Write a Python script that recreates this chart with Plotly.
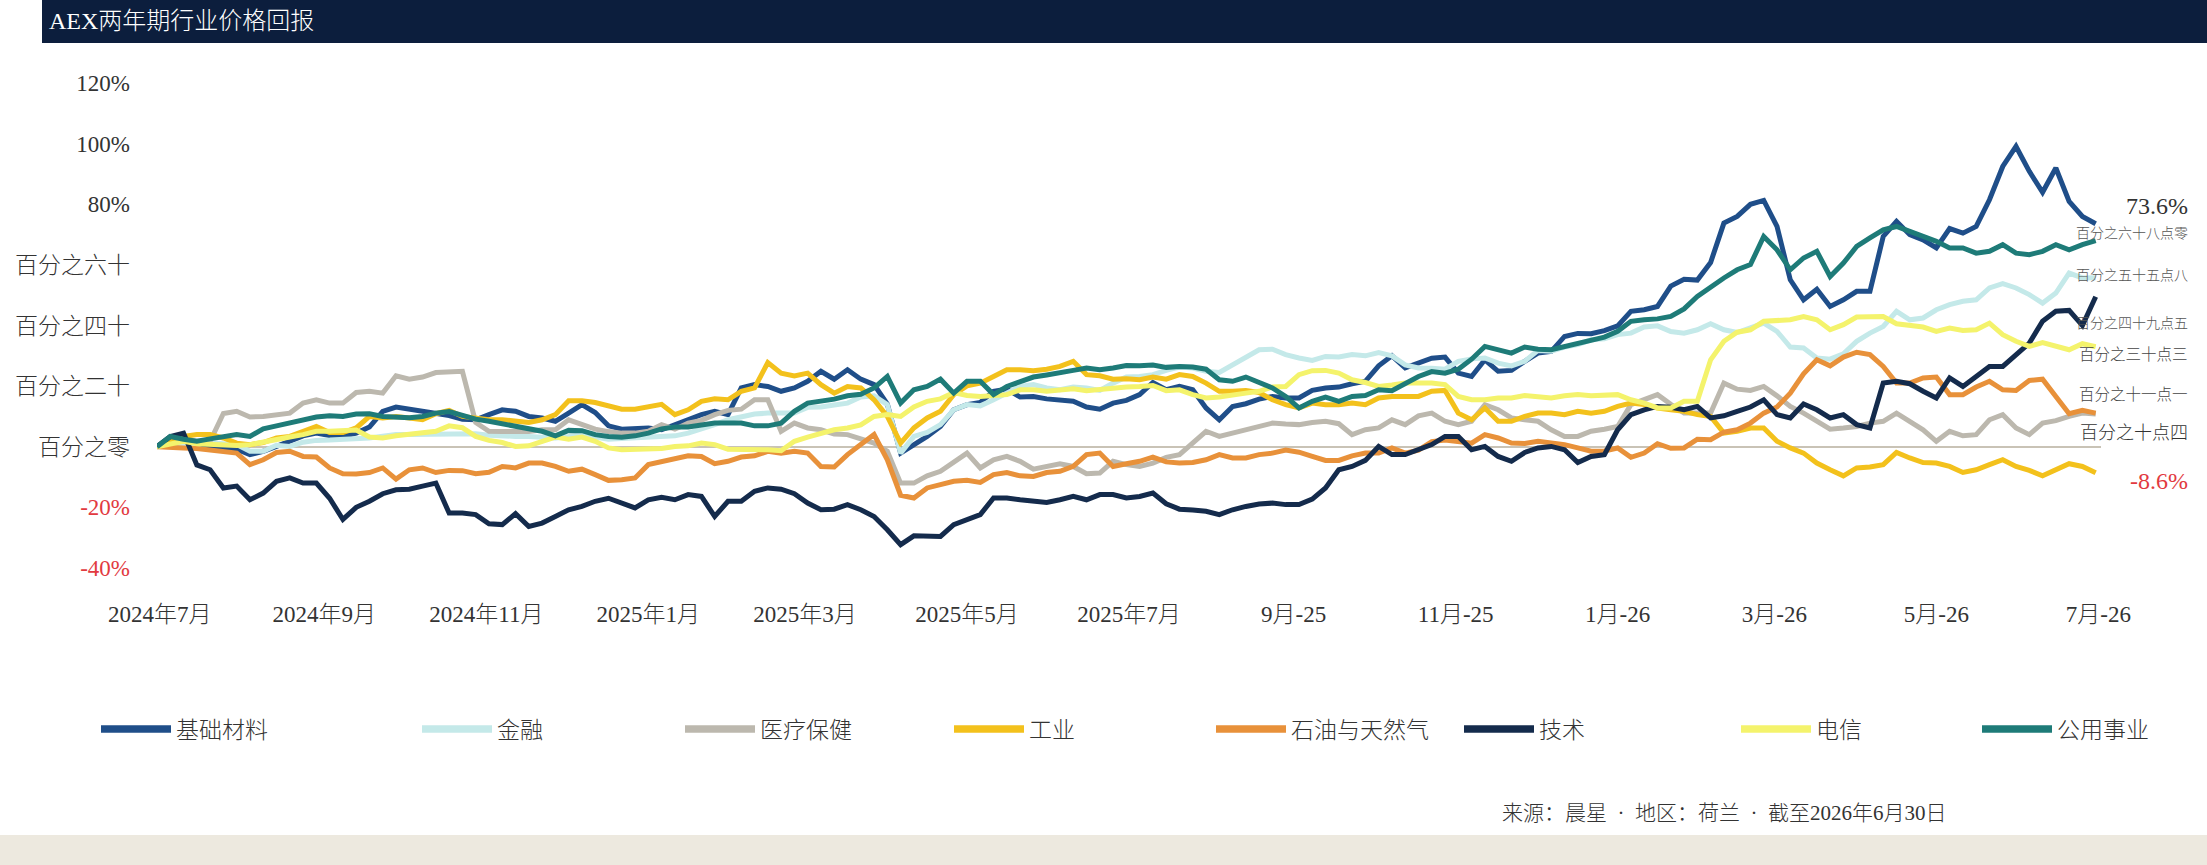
import plotly.graph_objects as go
import pandas as pd

# ---------------- data (cumulative price return, %) ----------------
# readings every 10 days from 2024-06-30 ("_a") and the in-between readings 5 days later ("_b")
dates_a = pd.date_range("2024-06-30", periods=74, freq="10D")
dates_b = pd.date_range("2024-07-05", periods=73, freq="10D")

basic_materials_a = [0, 2.9, -0.2, -0.8, -1.5, 1.8, 4.5, 3.4, 6.5, 13.1, 11.3, 10.3, 8.9, 12.2, 10.0, 8.4, 13.9, 6.9, 6.2, 5.6,
                     9.2, 11.7, 19.4, 19.9, 19.4, 24.9, 25.4, 20.5, -2.1, 3.4, 12.2, 14.6, 19.0, 16.6, 15.5, 13.1, 14.4, 17.2, 18.8,
                     18.8, 8.9, 14.2, 16.6, 16.1, 19.4, 20.8, 26.7, 26.0, 29.2, 24.3, 28.7, 25.2, 30.9, 36.4, 37.3, 39.9, 45.2, 53.0,
                     55.0, 73.8, 80.0, 72.7, 48.5, 46.3, 51.3, 69.4, 70.0, 65.6, 70.5, 81.5, 99.1, 84.0, 81.0, 73.6]
basic_materials_b = [2.3, 1.2, -0.4, -2.6, 0.1, 3.6, 3.7, 4.5, 11.7, 12.4, 11.0, 9.1, 10.6, 11.7, 9.5, 11.1, 11.3, 5.8, 6.2,
                     7.3, 10.6, 10.6, 20.5, 18.3, 21.6, 22.3, 22.3, 14.1, 0.7, 6.7, 13.9, 18.3, 16.4, 15.8, 15.0, 12.4, 15.3, 21.2,
                     19.9, 12.8, 13.3, 15.7, 16.1, 18.6, 19.7, 21.6, 30.0, 27.6, 29.6, 23.2, 24.9, 28.2, 31.5, 37.4, 38.3, 44.7, 46.3,
                     55.3, 60.8, 76.0, 81.3, 55.1, 52.0, 48.5, 51.3, 74.4, 68.3, 72.0, 72.7, 92.5, 90.9, 92.0, 76.0]

financials_a = [0, 1.0, 1.2, 0.7, -1.5, 0.1, 2.1, 2.3, 2.9, 4.0, 4.0, 4.0, 4.3, 3.4, 3.4, 2.9, 4.0, 2.5, 2.9, 3.3,
                4.5, 7.3, 10.0, 11.1, 11.1, 13.1, 14.4, 16.8, -2.1, 4.7, 12.2, 13.5, 17.5, 20.5, 18.8, 19.4, 21.0, 23.2, 25.2,
                26.0, 24.5, 29.8, 32.2, 29.3, 29.8, 30.4, 31.1, 27.0, 25.9, 28.2, 29.3, 26.7, 31.8, 32.9, 35.3, 37.0, 39.5, 38.0,
                38.6, 38.6, 39.2, 38.1, 32.6, 28.9, 34.8, 39.7, 41.9, 45.2, 48.0, 52.4, 52.4, 47.4, 57.3, 55.8]
financials_b = [1.0, 1.2, 1.0, -1.5, 0.5, 1.5, 2.2, 2.5, 3.5, 4.0, 4.0, 4.2, 3.8, 3.4, 3.2, 3.4, 3.2, 2.7, 3.2,
                3.6, 5.8, 8.9, 10.8, 11.1, 13.0, 13.8, 16.4, 13.9, 3.4, 7.3, 13.9, 15.5, 19.9, 19.4, 19.7, 18.6, 23.0, 23.8,
                26.3, 24.9, 27.1, 32.0, 30.4, 28.5, 29.6, 30.0, 30.0, 26.0, 25.6, 29.0, 27.6, 28.2, 31.5, 33.7, 35.6, 37.5, 39.9,
                37.5, 40.6, 37.7, 40.8, 32.9, 29.3, 30.7, 37.5, 44.7, 42.5, 46.9, 48.5, 53.8, 50.2, 50.7, 55.7]

healthcare_a = [0, 3.0, 1.8, 11.7, 10.0, 11.1, 15.5, 14.4, 18.3, 23.4, 23.0, 24.9, 8.0, 5.0, 5.0, 5.6, 7.3, 5.0, 4.5, 7.3,
                7.8, 10.6, 12.4, 15.5, 7.8, 5.6, 4.0, 1.2, -12.0, -9.6, -5.2, -7.0, -3.2, -7.4, -5.6, -8.9, -4.8, -6.5, -3.5,
                1.2, 3.4, 5.6, 7.8, 7.3, 8.4, 4.0, 6.2, 7.3, 11.1, 7.3, 13.9, 9.5, 8.4, 3.4, 5.1, 6.7, 15.7, 14.0,
                11.1, 21.0, 18.6, 16.8, 11.1, 5.8, 6.7, 8.4, 8.4, 1.8, 3.6, 8.9, 6.2, 7.8, 10.0, 10.8]
healthcare_b = [2.9, 1.8, 11.0, 9.8, 10.6, 14.4, 14.4, 17.9, 17.7, 22.3, 24.5, 24.9, 5.1, 5.1, 5.6, 8.9, 5.8, 4.5, 5.1,
                5.8, 8.7, 12.0, 15.5, 5.1, 6.2, 4.2, 2.5, -1.5, -12.0, -8.1, -2.1, -4.3, -4.8, -6.5, -6.5, -8.7, -5.9, -5.4,
                -2.6, 5.1, 4.5, 6.5, 7.5, 8.0, 7.6, 5.6, 8.9, 10.2, 8.4, 8.4, 12.2, 8.9, 5.6, 3.4, 5.8, 13.9, 17.2,
                11.1, 11.1, 19.0, 19.9, 13.3, 8.4, 6.2, 7.8, 11.1, 5.6, 5.1, 4.0, 10.6, 4.0, 8.6, 11.1]

industrials_a = [0, 3.4, 4.0, 1.2, 1.4, 3.4, 6.7, 4.7, 10.0, 10.0, 8.9, 12.0, 9.5, 8.9, 8.0, 10.6, 15.2, 13.5, 12.4, 14.0,
                 12.2, 15.8, 18.3, 27.8, 23.4, 20.5, 19.9, 15.5, 1.2, 9.5, 17.2, 21.0, 25.4, 25.1, 26.5, 23.8, 22.3, 22.1, 22.3,
                 23.2, 18.3, 18.6, 15.5, 12.8, 13.9, 14.4, 16.1, 16.6, 18.3, 11.1, 12.8, 8.4, 11.1, 10.6, 11.1, 13.3, 13.9, 12.2,
                 10.6, 4.5, 6.2, 1.8, -2.1, -7.6, -7.0, -5.9, -3.7, -5.4, -8.5, -5.9, -6.5, -9.6, -5.6, -8.6]
industrials_b = [2.3, 4.0, 2.9, 0.7, 2.9, 5.1, 4.7, 6.2, 9.5, 9.5, 10.9, 10.0, 8.9, 8.4, 8.9, 15.2, 14.6, 12.4, 13.3,
                 10.6, 15.0, 15.5, 19.4, 24.3, 24.3, 17.7, 19.4, 10.0, 6.2, 11.7, 20.1, 23.2, 25.4, 25.6, 28.2, 23.4, 22.4, 23.0,
                 23.8, 21.0, 18.3, 17.9, 13.9, 14.4, 13.9, 13.9, 16.6, 16.6, 18.6, 8.9, 8.4, 10.0, 11.1, 11.7, 11.7, 14.4, 12.8,
                 11.7, 10.0, 5.1, 6.2, -0.4, -5.4, -9.6, -6.7, -1.9, -5.2, -6.5, -7.6, -4.3, -7.8, -7.6, -6.5]

oil_gas_a = [0, -0.4, -1.2, -2.1, -4.3, -1.5, -3.4, -8.9, -8.5, -10.7, -7.0, -7.8, -8.9, -6.5, -5.4, -6.5, -7.4, -11.1, -10.3, -4.8,
             -3.0, -5.6, -3.4, -1.5, -1.5, -6.5, -2.6, 4.0, -16.0, -13.6, -11.4, -11.8, -8.5, -9.8, -8.1, -2.6, -6.5, -4.8, -5.0,
             -5.2, -2.6, -3.7, -2.1, -1.8, -4.5, -3.0, -2.1, -2.1, 1.7, 1.8, 4.0, 1.2, 1.8, 0.7, -1.5, -0.4, -2.1, -0.5,
             2.5, 4.8, 7.8, 13.1, 24.1, 26.7, 31.2, 26.5, 21.0, 23.0, 17.2, 21.6, 18.6, 22.3, 10.9, 11.1]
oil_gas_b = [-0.4, -0.6, -1.9, -5.9, -1.9, -3.2, -7.0, -9.0, -7.0, -7.6, -8.5, -7.9, -8.4, -7.0, -5.4, -8.1, -9.2, -10.9, -5.9,
             -3.7, -3.2, -4.8, -3.0, -2.1, -2.1, -6.7, 0.7, -4.3, -16.9, -12.5, -11.1, -9.2, -9.6, -8.5, -6.5, -2.1, -5.6, -3.4,
             -5.4, -4.3, -3.7, -2.6, -1.1, -3.2, -4.5, -2.1, -0.4, -1.1, 2.2, 1.2, 2.9, 1.1, 1.4, -0.4, -1.4, -3.5, 1.0,
             -0.4, 2.3, 5.6, 11.1, 17.7, 28.7, 29.6, 30.4, 21.0, 22.7, 17.2, 19.7, 18.8, 21.9, 16.6, 12.0]

technology_a = [0, 4.5, -7.6, -13.0, -15.3, -10.3, -12.0, -24.0, -18.0, -14.2, -13.0, -21.9, -22.4, -25.7, -26.3, -23.0, -19.7, -17.0, -20.2, -16.7,
                -15.8, -23.0, -18.0, -13.6, -15.5, -20.8, -19.1, -23.0, -32.3, -29.6, -25.7, -22.4, -16.9, -18.0, -17.5, -17.5, -15.8, -16.4, -18.8,
                -20.9, -22.4, -19.7, -18.6, -19.1, -13.6, -6.5, 0.1, -2.6, 0.7, 3.4, 0.1, -4.8, -0.4, -1.0, -3.2, 5.6, 12.2, 13.0,
                13.3, 10.2, 13.1, 10.6, 14.1, 9.5, 7.3, 21.0, 20.8, 16.1, 19.9, 26.5, 30.4, 41.4, 45.0, 49.5]
technology_b = [3.4, -6.0, -13.6, -17.5, -11.4, -12.0, -17.0, -20.0, -15.5, -14.0, -12.0, -21.9, -25.4, -22.1, -25.2, -20.8, -18.0, -18.8, -17.5,
                -17.5, -16.4, -18.0, -14.7, -14.0, -18.6, -20.6, -20.8, -27.4, -29.4, -29.6, -24.1, -16.9, -17.5, -18.4, -16.4, -15.8, -16.9, -15.3,
                -20.6, -21.3, -20.8, -18.9, -19.1, -17.3, -7.6, -4.5, -2.6, -1.0, 3.4, -1.0, -3.2, -1.9, 0.1, -5.2, -2.6, 10.6, 13.3,
                12.2, 9.5, 11.7, 15.5, 9.5, 12.2, 10.6, 6.2, 21.6, 18.3, 22.7, 23.2, 26.5, 34.2, 44.7, 40.0]

telecom_a = [0, 1.8, 0.7, 0.4, 1.4, 3.2, 5.1, 5.1, 3.2, 3.6, 4.5, 6.9, 3.4, 1.4, 0.3, 3.2, 3.2, -0.4, -0.8, -0.6,
             0.3, 0.7, -0.8, -1.0, 1.8, 4.5, 6.2, 10.0, 10.0, 15.0, 17.9, 16.6, 17.2, 18.8, 18.6, 18.5, 19.4, 19.9, 18.5,
             17.2, 16.4, 17.7, 19.7, 23.8, 25.2, 22.1, 19.9, 21.0, 21.0, 16.6, 15.5, 16.1, 16.6, 16.8, 16.8, 17.2, 14.4, 12.8,
             15.0, 34.8, 38.6, 41.6, 43.0, 38.6, 42.8, 43.0, 39.9, 38.1, 38.4, 40.8, 34.8, 34.4, 32.0, 33.0]
telecom_b = [1.0, 1.0, 0.5, 0.7, 2.5, 4.0, 5.1, 5.5, 2.9, 4.0, 5.1, 6.3, 2.1, 0.1, 1.8, 2.5, 1.8, -1.0, -0.7,
             0.1, 1.2, -0.8, -0.6, -1.3, 3.2, 5.6, 7.2, 10.6, 13.1, 15.8, 16.9, 16.8, 18.8, 18.3, 19.1, 19.0, 19.7, 20.2,
             18.8, 16.1, 17.2, 18.3, 19.9, 25.1, 24.3, 21.2, 20.4, 21.0, 20.5, 15.5, 16.1, 16.9, 16.1, 17.2, 17.2, 15.5, 12.8,
             15.0, 28.7, 37.8, 41.4, 41.9, 41.9, 40.3, 43.0, 40.6, 39.5, 39.2, 38.6, 37.0, 33.1, 33.1, 34.0]

utilities_a = [0, 2.5, 2.6, 4.0, 5.9, 7.8, 9.8, 10.0, 10.9, 9.8, 10.0, 11.6, 9.1, 7.6, 5.8, 3.6, 5.3, 3.4, 3.6, 5.9,
               6.5, 7.8, 7.8, 6.9, 11.7, 15.0, 16.8, 19.4, 14.4, 19.9, 17.7, 21.6, 19.9, 23.0, 24.3, 26.0, 26.0, 26.7, 26.2,
               26.3, 22.1, 23.0, 19.4, 12.8, 16.4, 16.6, 18.8, 21.0, 24.8, 25.6, 33.1, 30.9, 32.2, 33.1, 35.0, 38.1, 41.9, 43.0,
               49.6, 55.7, 60.1, 65.0, 62.3, 56.2, 66.1, 71.6, 71.1, 67.8, 65.6, 64.5, 63.9, 64.5, 65.0, 68.0]
utilities_b = [3.4, 1.8, 3.2, 3.4, 6.9, 8.6, 10.2, 10.8, 10.0, 9.6, 11.1, 10.2, 8.4, 6.5, 5.1, 5.4, 4.0, 3.1, 4.5,
               6.5, 7.2, 7.8, 6.9, 7.8, 14.4, 15.7, 17.3, 23.2, 18.8, 22.3, 21.6, 17.2, 21.6, 23.7, 25.2, 25.4, 26.8, 27.0,
               26.5, 25.6, 21.6, 21.2, 16.6, 15.0, 15.0, 16.9, 18.5, 23.2, 24.3, 28.9, 32.0, 32.9, 32.0, 34.0, 36.2, 41.4, 42.2,
               45.5, 52.9, 58.4, 69.4, 58.4, 64.5, 60.6, 68.9, 72.7, 69.4, 65.6, 63.9, 66.7, 63.4, 66.7, 66.7]

sector_names = ["基础材料", "金融", "医疗保健", "工业", "石油与天然气", "技术", "电信", "公用事业"]
sector_values = [(basic_materials_a, basic_materials_b), (financials_a, financials_b), (healthcare_a, healthcare_b),
                 (industrials_a, industrials_b), (oil_gas_a, oil_gas_b), (technology_a, technology_b),
                 (telecom_a, telecom_b), (utilities_a, utilities_b)]
sector_colors = ["#1f4e89", "#c4e9e9", "#bcb8ae", "#f3c11c", "#e8913a", "#142b4c", "#f4f36c", "#1e7b78"]

# end-of-period labels (text shown at right edge)
end_labels = ["73.6%", "百分之六十八点零", "百分之五十五点八", "百分之四十九点五",
              "百分之三十点三", "百分之十一点一", "百分之十点四", "-8.6%"]

x_tick_dates = ["2024-07-01", "2024-09-01", "2024-11-01", "2025-01-01", "2025-03-01", "2025-05-01", "2025-07-01",
                "2025-09-01", "2025-11-01", "2026-01-01", "2026-03-01", "2026-05-01", "2026-07-01"]
x_tick_text = ["2024年7月", "2024年9月", "2024年11月", "2025年1月", "2025年3月", "2025年5月", "2025年7月",
               "9月-25", "11月-25", "1月-26", "3月-26", "5月-26", "7月-26"]
y_tick_vals = [120, 100, 80, 60, 40, 20, 0, -20, -40]
y_tick_text = ["120%", "100%", "80%", "百分之六十", "百分之四十", "百分之二十", "百分之零", "-20%", "-40%"]

title_text = "AEX两年期行业价格回报"
source_text = "来源：晨星  ·  地区：荷兰  ·  截至2026年6月30日"

# ---------------- layout helpers ----------------
W, H = 2207, 865
L, R, T, B = 157, 106, 68, 291
PW, PH = W - L - R, H - T - B
RED = "#e23a3f"
FONT = "Liberation Serif, Noto Sans CJK SC, serif"


def fx(px):
    return (px - L) / PW


def fy(py):
    return (H - B - py) / PH


def merged(a, b):
    pts = sorted(list(zip(dates_a, a)) + list(zip(dates_b, b)), key=lambda p: p[0])
    return [p[0] for p in pts], [p[1] for p in pts]


fig = go.Figure()
for name, (va, vb), color in zip(sector_names, sector_values, sector_colors):
    xs, ys = merged(va, vb)
    fig.add_trace(go.Scatter(x=xs, y=ys, mode="lines", name=name, legendgroup=name, showlegend=False,
                             line=dict(color=color, width=5),
                             hovertemplate="%{x|%Y-%m-%d}: %{y:.1f}%<extra>" + name + "</extra>"))

# legend entries (thicker swatches, linked to the data traces by legendgroup)
legend_widths = [236, 178, 184, 177, 163, 192, 156, 100]
for name, color, lw in zip(sector_names, sector_colors, legend_widths):
    fig.add_trace(go.Scatter(x=[None], y=[None], mode="lines", name=name, legendgroup=name, showlegend=True,
                             line=dict(color=color, width=7.5), legendwidth=lw, hoverinfo="skip"))

y_text_colored = [t if v >= 0 else f"<span style='color:{RED}'>{t}</span>" for t, v in zip(y_tick_text, y_tick_vals)]

# label anchor positions (vertical, in axis units) for the right-hand end labels
label_y = [79.5, 70.3, 56.4, 40.6, 30.4, 17.2, 4.6, -11.2]
label_size = [24, 14, 14, 14, 15.5, 15.5, 18, 24]
label_color = ["#333333", "#555555", "#555555", "#555555", "#444444", "#444444", "#333333", RED]

annotations = []
for txt, yy, sz, col in zip(end_labels, label_y, label_size, label_color):
    annotations.append(dict(x=fx(2190), xref="paper", y=yy, yref="y", text=txt, showarrow=False,
                            xanchor="right", yanchor="middle", font=dict(size=sz, color=col, family=FONT, weight=300)))
annotations.append(dict(x=fx(47), xref="paper", y=fy(21), yref="paper", text=title_text, showarrow=False,
                        xanchor="left", yanchor="middle", font=dict(size=24, color="white", family=FONT, weight=300)))
annotations.append(dict(x=fx(1500), xref="paper", y=fy(813), yref="paper", text=source_text, showarrow=False,
                        xanchor="left", yanchor="middle", font=dict(size=21, color="#333333", family=FONT, weight=300)))

shapes = [
    dict(type="rect", xref="paper", yref="paper", x0=fx(42), x1=fx(W), y0=fy(43), y1=fy(0),
         fillcolor="#0c1e3d", line=dict(width=0), layer="below"),
    dict(type="rect", xref="paper", yref="paper", x0=fx(0), x1=fx(W), y0=fy(H), y1=fy(835),
         fillcolor="#ede9df", line=dict(width=0), layer="below"),
]

fig.update_layout(
    width=W, height=H,
    margin=dict(l=L, r=R, t=T, b=B, autoexpand=False),
    paper_bgcolor="white", plot_bgcolor="white",
    font=dict(family=FONT, color="#333333", size=23, weight=300),
    showlegend=True,
    legend=dict(orientation="h", xref="paper", yref="paper", x=fx(96), y=fy(729),
                xanchor="left", yanchor="middle", font=dict(size=23, color="#333333", weight=300),
                itemwidth=70, bgcolor="rgba(0,0,0,0)", traceorder="normal"),
    xaxis=dict(type="date", range=["2024-06-30", "2026-07-02"], tickvals=x_tick_dates, ticktext=x_tick_text,
               ticks="", showgrid=False, showline=False, zeroline=False, ticklabelstandoff=24,
               tickfont=dict(size=23, color="#333333", weight=300)),
    yaxis=dict(range=[-42, 125], tickvals=y_tick_vals, ticktext=y_text_colored, ticks="", showgrid=False,
               showline=False, zeroline=True, zerolinecolor="#c9c3b6", zerolinewidth=2, ticklabelstandoff=26,
               tickfont=dict(size=23, color="#333333", weight=300)),
    annotations=annotations,
    shapes=shapes,
    hovermode="closest",
)

fig.write_html("out.html")
